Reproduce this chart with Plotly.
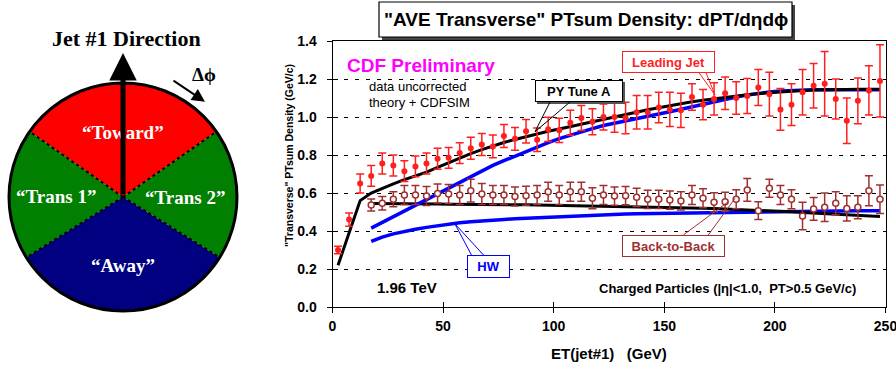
import plotly.graph_objects as go

W, H = 896, 371

# ---------------- data ----------------
ET_LJ = [2.5, 7.5, 12.5, 17.5, 22.5, 27.5, 32.5, 37.5, 42.5, 47.5,
         52.5, 57.5, 62.5, 67.5, 72.5, 77.5, 82.5, 87.5, 92.5, 97.5,
         102.5, 107.5, 112.5, 117.5, 122.5, 127.5, 132.5, 137.5, 142.5, 147.5,
         152.5, 157.5, 162.5, 167.5, 172.5, 177.5, 182.5, 187.5, 192.5, 197.5,
         202.5, 207.5, 212.5, 217.5, 222.5, 227.5, 232.5, 237.5, 242.5, 247.5]
LJ_VAL = [0.30, 0.46, 0.65, 0.69, 0.755, 0.745, 0.715, 0.74, 0.755, 0.78,
          0.785, 0.81, 0.835, 0.855, 0.845, 0.90, 0.885, 0.925, 0.88, 0.935,
          0.93, 0.97, 0.995, 0.975, 1.00, 1.00, 0.995, 1.025, 1.025, 1.05,
          1.04, 1.035, 1.105, 1.065, 1.095, 1.125, 1.10, 1.11, 1.155, 1.12,
          1.04, 1.065, 1.13, 1.165, 1.175, 1.095, 0.98, 1.085, 1.14, 1.19]
LJ_ERR = [0.02, 0.035, 0.05, 0.055, 0.055, 0.055, 0.055, 0.055, 0.055, 0.055,
          0.055, 0.055, 0.058, 0.058, 0.06, 0.06, 0.06, 0.062, 0.062, 0.064,
          0.064, 0.066, 0.066, 0.068, 0.068, 0.08, 0.083, 0.088, 0.088, 0.08,
          0.09, 0.09, 0.07, 0.08, 0.085, 0.085, 0.085, 0.092, 0.095, 0.115,
          0.11, 0.11, 0.12, 0.117, 0.17, 0.105, 0.12, 0.12, 0.13, 0.19]

ET_B2B = [17.5, 22.5, 27.5, 32.5, 37.5, 42.5, 47.5,
          52.5, 57.5, 62.5, 67.5, 72.5, 77.5, 82.5, 87.5, 92.5, 97.5,
          102.5, 107.5, 112.5, 117.5, 122.5, 127.5, 132.5, 137.5, 142.5, 147.5,
          152.5, 157.5, 162.5, 167.5, 172.5, 177.5, 182.5, 187.5, 192.5, 197.5,
          202.5, 207.5, 212.5, 217.5, 222.5, 227.5, 232.5, 237.5, 242.5, 247.5]
B2B_VAL = [0.537, 0.546, 0.567, 0.589, 0.589, 0.584, 0.598,
           0.595, 0.589, 0.612, 0.595, 0.589, 0.589, 0.581, 0.586, 0.589, 0.607,
           0.589, 0.607, 0.607, 0.572, 0.589, 0.584, 0.586, 0.577, 0.567, 0.567,
           0.563, 0.558, 0.589, 0.572, 0.551, 0.554, 0.567, 0.616, 0.507, 0.625,
           0.589, 0.567, 0.479, 0.516, 0.525, 0.546, 0.519, 0.525, 0.612, 0.567]
B2B_ERR = [0.032, 0.035, 0.04, 0.05, 0.05, 0.05, 0.05,
           0.05, 0.05, 0.06, 0.055, 0.05, 0.05, 0.05, 0.05, 0.05, 0.05,
           0.05, 0.05, 0.05, 0.055, 0.05, 0.048, 0.048, 0.048, 0.048, 0.048,
           0.048, 0.048, 0.05, 0.05, 0.05, 0.05, 0.05, 0.06, 0.047, 0.048,
           0.05, 0.05, 0.072, 0.06, 0.075, 0.06, 0.066, 0.06, 0.079, 0.075]

# theory curves
PY_LJ = [0.22, 0.39, 0.56, 0.60, 0.625, 0.648, 0.67, 0.69, 0.71, 0.735,
         0.76, 0.785, 0.807, 0.828, 0.848, 0.866, 0.882, 0.897, 0.912, 0.925,
         0.937, 0.95, 0.962, 0.976, 0.99, 1.003, 1.015, 1.027, 1.038, 1.049,
         1.06, 1.07, 1.08, 1.088, 1.096, 1.104, 1.111, 1.117, 1.123, 1.128,
         1.133, 1.137, 1.14, 1.142, 1.144, 1.145, 1.145, 1.146, 1.146, 1.146]
HW_LJ = [0.415, 0.445, 0.475, 0.506, 0.537, 0.568, 0.60,
         0.63, 0.66, 0.69, 0.718, 0.745, 0.77, 0.795, 0.82, 0.843, 0.865,
         0.886, 0.905, 0.922, 0.939, 0.955, 0.968, 0.98, 0.992, 1.004, 1.016,
         1.028, 1.041, 1.054, 1.067, 1.082, 1.094, 1.105, 1.116, 1.125, 1.132,
         1.137, 1.14, 1.142, 1.143, 1.143, 1.143, 1.143, 1.143, 1.143, 1.143]
PY_B2B = [0.545, 0.545, 0.544, 0.543, 0.543, 0.542, 0.542,
          0.541, 0.541, 0.54, 0.54, 0.54, 0.539, 0.538, 0.538, 0.537, 0.536,
          0.536, 0.535, 0.534, 0.533, 0.532, 0.531, 0.53, 0.529, 0.528, 0.527,
          0.526, 0.524, 0.522, 0.52, 0.518, 0.516, 0.514, 0.512, 0.51, 0.507,
          0.504, 0.501, 0.498, 0.495, 0.492, 0.489, 0.486, 0.483, 0.479, 0.476]
HW_B2B = [0.345, 0.368, 0.385, 0.398, 0.409, 0.419, 0.428,
          0.436, 0.443, 0.449, 0.454, 0.458, 0.461, 0.464, 0.467, 0.47, 0.473,
          0.476, 0.479, 0.482, 0.485, 0.487, 0.489, 0.49, 0.491, 0.492, 0.493,
          0.494, 0.495, 0.496, 0.497, 0.498, 0.499, 0.50, 0.501, 0.502, 0.503,
          0.504, 0.505, 0.506, 0.507, 0.507, 0.507, 0.507, 0.507, 0.507, 0.507]

X_TICKS = [0, 50, 100, 150, 200, 250]
Y_TICKS = [0.0, 0.2, 0.4, 0.6, 0.8, 1.0, 1.2, 1.4]

# diagram sectors
SECTOR_NAMES = ["\u201cToward\u201d", "\u201cTrans 1\u201d", "\u201cAway\u201d", "\u201cTrans 2\u201d"]
SECTOR_CENTER = [90, 178.5, 270, 1.5]
SECTOR_WIDTH = [110, 67, 116, 67]
SECTOR_COLORS = ["#ff0000", "#007f00", "#000080", "#007f00"]
DIVIDERS = [35, 145, 212, 328]

# ---------------- styles ----------------
SANS = "Liberation Sans"
SERIF = "Liberation Serif"
RED = "#ff1f1f"
DRED = "#a03030"
BLUE = "#0000ff"
MAG = "#ff00ff"

# pixel helpers for placing decorations
X0PX, X1PX = 332.5, 885.5
Y0PX, Y1PX = 307.0, 41.0


def px(x):
    return x / W


def py(y):
    return 1 - y / H


def dx(x):
    return (x - X0PX) / (X1PX - X0PX) * 250


def dy(y):
    return (Y0PX - y) / (Y0PX - Y1PX) * 1.4


fig = go.Figure()

# ---------------- diagram (polar) ----------------
fig.add_trace(go.Barpolar(r=[1, 1, 1, 1], theta=SECTOR_CENTER, width=SECTOR_WIDTH,
                          marker=dict(color=SECTOR_COLORS, line=dict(width=0)),
                          subplot="polar", hoverinfo="skip", showlegend=False))
for a in DIVIDERS:
    fig.add_trace(go.Scatterpolar(r=[0, 1], theta=[a, a], mode="lines",
                                  line=dict(color="black", width=2, dash="dot"),
                                  subplot="polar", hoverinfo="skip", showlegend=False))

# ---------------- main chart ----------------
fig.add_trace(go.Scatter(x=ET_B2B, y=HW_B2B, mode="lines", line=dict(color=BLUE, width=3.5), showlegend=False))
fig.add_trace(go.Scatter(x=ET_B2B, y=PY_B2B, mode="lines", line=dict(color="black", width=3), showlegend=False))
fig.add_trace(go.Scatter(x=ET_B2B, y=HW_LJ, mode="lines", line=dict(color=BLUE, width=3.5), showlegend=False))
fig.add_trace(go.Scatter(x=ET_LJ, y=PY_LJ, mode="lines", line=dict(color="black", width=3), showlegend=False))

fig.add_trace(go.Scatter(x=ET_B2B, y=B2B_VAL, mode="markers",
                         marker=dict(symbol="circle", size=6, color="white", line=dict(color=DRED, width=1.5)),
                         error_y=dict(type="data", array=B2B_ERR, color=DRED, thickness=1.5, width=4),
                         showlegend=False))
fig.add_trace(go.Scatter(x=ET_LJ, y=LJ_VAL, mode="markers",
                         marker=dict(symbol="circle", size=6, color=RED),
                         error_y=dict(type="data", array=LJ_ERR, color=RED, thickness=1.5, width=4),
                         showlegend=False))

shapes = []
annotations = []

# title box with shadow
shapes.append(dict(type="rect", xref="paper", yref="paper", x0=px(382), x1=px(795), y0=py(40), y1=py(5),
                   fillcolor="#444444", line=dict(width=0), layer="above"))
shapes.append(dict(type="rect", xref="paper", yref="paper", x0=px(379), x1=px(792), y0=py(37), y1=py(2),
                   fillcolor="white", line=dict(color="black", width=1.2), layer="above"))


def ptext(text, x, y, size, color="black", family=SANS, **kw):
    d = dict(xref="paper", yref="paper", x=px(x), y=py(y), xanchor="center", yanchor="middle",
             showarrow=False, text=text, font=dict(family=family, size=size, color=color))
    d.update(kw)
    annotations.append(d)


ptext("<b>\"AVE Transverse\" PTsum Density: dPT/d\u03b7d\u03d5</b>", 585.5, 19.5, 19)

# PY box shadow
shapes.append(dict(type="rect", xref="x", yref="y", x0=dx(537), x1=dx(625), y0=dy(104), y1=dy(82),
                   fillcolor="#555555", line=dict(width=0), layer="above"))

# leader lines (callouts): colour, start points on box, end points on curve/data
CALLOUTS = [
    ("black", [(550, 102), (570, 102)], [(535, 131.7), (535, 131.7)]),
    (RED, [(699, 72.7), (706, 72.7)], [(715, 95), (715, 95)]),
    (DRED, [(683.3, 235), (708.3, 235)], [(728.3, 201.7), (735, 198.3)]),
    (BLUE, [(471.7, 255.5), (484, 255.5)], [(455, 224), (455, 224)]),
]
for col, starts, ends in CALLOUTS:
    for (sx, sy), (ex, ey) in zip(starts, ends):
        shapes.append(dict(type="line", xref="x", yref="y", x0=dx(sx), y0=dy(sy), x1=dx(ex), y1=dy(ey),
                           line=dict(color=col, width=1), layer="above"))


def box(text, cx, cy, w, h, col):
    annotations.append(dict(xref="x", yref="y", x=dx(cx), y=dy(cy), xanchor="center", yanchor="middle",
                            showarrow=False, text="<b>" + text + "</b>", width=w, height=h,
                            bgcolor="white", bordercolor=col, borderwidth=1, borderpad=0,
                            font=dict(family=SANS, size=13, color=col)))


box("PY Tune A", 579, 91, 86, 20, "black")
box("Leading Jet", 668, 61.8, 91, 20, RED)
box("Back-to-Back", 673.3, 246.2, 101, 20, DRED)
box("HW", 488.3, 266.7, 41, 21, BLUE)


def dtext(text, x, y, size, anchor, color="black"):
    annotations.append(dict(xref="x", yref="y", x=dx(x), y=dy(y), xanchor=anchor, yanchor="middle",
                            showarrow=False, text=text, font=dict(family=SANS, size=size, color=color)))


dtext("<b>CDF Preliminary</b>", 345, 65, 19, "left", MAG)
dtext("data uncorrected", 367, 86, 13, "left")
dtext("theory + CDFSIM", 367, 102, 13, "left")
dtext("<b>1.96 TeV</b>", 375, 287.3, 15, "left")
dtext("<b>Charged Particles (|\u03b7|<1.0,  PT>0.5 GeV/c)</b>", 858, 288.3, 13, "right")

# axis titles
ptext("<b>ET(jet#1)\u00a0\u00a0\u00a0(GeV)</b>", 609, 353, 15)
ptext("<b>\"Transverse\" PTsum Density (GeV/c)</b>", 289, 156, 10.5, textangle=-90)

# diagram texts
ptext("<b>Jet #1 Direction</b>", 126, 38, 22, family=SERIF)
ptext("<b>\u0394\u03d5</b>", 204, 75, 19, family=SERIF)
ptext("<b>" + SECTOR_NAMES[0] + "</b>", 123, 133, 19, color="white", family=SERIF)
ptext("<b>" + SECTOR_NAMES[1] + "</b>", 56, 196, 19, color="white", family=SERIF)
ptext("<b>" + SECTOR_NAMES[2] + "</b>", 123, 265, 19, color="white", family=SERIF)
ptext("<b>" + SECTOR_NAMES[3] + "</b>", 185, 197, 19, color="white", family=SERIF)

# jet arrow and delta-phi arrow
annotations.append(dict(xref="paper", yref="paper", x=px(123), y=py(53), ax=0, ay=143, text="",
                        showarrow=True, arrowhead=2, arrowsize=1.1, arrowwidth=5, arrowcolor="black",
                        standoff=0, startstandoff=0))
annotations.append(dict(xref="paper", yref="paper", x=px(205), y=py(101.7), ax=-33, ay=-22, text="",
                        showarrow=True, arrowhead=2, arrowsize=1.3, arrowwidth=2, arrowcolor="black",
                        standoff=0, startstandoff=0))

xdom = [px(X0PX), px(X1PX)]
ydom = [py(Y0PX), py(Y1PX)]
tickfont = dict(family=SANS, size=14, color="black", weight="bold")

fig.update_layout(
    template="none",
    width=W, height=H, margin=dict(l=0, r=0, t=0, b=0, pad=0, autoexpand=False),
    paper_bgcolor="white", plot_bgcolor="white", showlegend=False, hovermode=False,
    xaxis=dict(domain=xdom, range=[0, 250], tickvals=X_TICKS, ticks="outside", ticklen=5, tickwidth=1,
               tickcolor="black", showline=True, linecolor="black", linewidth=1, mirror=True,
               showgrid=False, zeroline=False, tickfont=tickfont, fixedrange=True, automargin=False,
               ticklabeloverflow="allow", ticklabelstandoff=1),
    yaxis=dict(domain=ydom, range=[0, 1.4], tickvals=Y_TICKS, tickformat=".1f", ticks="outside", ticklen=5,
               tickwidth=1, tickcolor="black", showline=True, linecolor="black", linewidth=1, mirror=True,
               showgrid=True, gridcolor="black", gridwidth=1, griddash="4px,7px", zeroline=False,
               tickfont=tickfont, ticklabelstandoff=7, fixedrange=True, automargin=False,
               ticklabeloverflow="allow"),
    xaxis2=dict(overlaying="x", anchor="y", range=[0, 250], tickvals=X_TICKS, ticks="inside", ticklen=5,
                tickcolor="black", showticklabels=False, showgrid=False, zeroline=False, showline=False,
                automargin=False),
    yaxis2=dict(overlaying="y", anchor="x", range=[0, 1.4], tickvals=Y_TICKS, ticks="inside", ticklen=5,
                tickcolor="black", showticklabels=False, showgrid=False, zeroline=False, showline=False,
                automargin=False),
    polar=dict(domain=dict(x=[px(9), px(237)], y=[py(311), py(83)]), bgcolor="white", bargap=0,
               radialaxis=dict(visible=False, range=[0, 1]),
               angularaxis=dict(showline=True, linecolor="black", linewidth=3, showticklabels=False,
                                ticks="", showgrid=False, rotation=0, direction="counterclockwise")),
    shapes=shapes, annotations=annotations,
)

# invisible trace so the overlay axes (cross ticks) are drawn
fig.add_trace(go.Scatter(x=[0], y=[0], xaxis="x2", yaxis="y2", mode="markers",
                         marker=dict(size=0.1, opacity=0), showlegend=False, hoverinfo="skip"))

fig.write_html("out.html")
